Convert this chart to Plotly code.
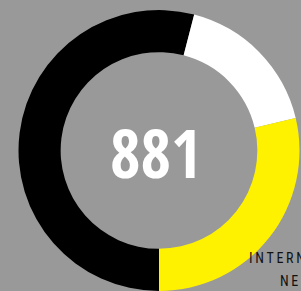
import plotly.graph_objects as go

labels = ["Black", "White", "Yellow"]
values = [476, 152, 253]
colors = ["#000000", "#FFFFFF", "#FFF200"]
center_label = "881"
caption_lines = ["INTERNATIONAL", "NEWS"]

sp = "\u2009"
def spaced(s):
    return sp.join(list(s))

fig = go.Figure(go.Pie(
    labels=labels, values=values, hole=0.70, sort=False,
    direction="clockwise", rotation=180,
    marker=dict(colors=colors, line=dict(width=0)),
    textinfo="none", hoverinfo="label+value", showlegend=False,
    domain=dict(x=[0.0598, 0.9967], y=[0.0, 0.9656]),
))

fig.add_annotation(text=center_label, x=0.518, y=0.478, xref="paper", yref="paper",
                   showarrow=False, xanchor="center", yanchor="middle",
                   font=dict(family="Open Sans Condensed, Roboto Condensed", size=66, color="#FFFFFF", weight="bold"))
fig.add_annotation(text=spaced(caption_lines[0]), x=0.822, y=0.113, xref="paper", yref="paper",
                   showarrow=False, xanchor="left", yanchor="middle",
                   font=dict(family="Roboto Condensed", size=14, color="#111111"))
fig.add_annotation(text=spaced(caption_lines[1]), x=0.922, y=0.036, xref="paper", yref="paper",
                   showarrow=False, xanchor="left", yanchor="middle",
                   font=dict(family="Roboto Condensed", size=14, color="#111111"))

fig.update_layout(width=301, height=291, margin=dict(l=0, r=0, t=0, b=0),
                  paper_bgcolor="#999999", plot_bgcolor="#999999")
fig.write_html("out.html", config={"displayModeBar": False},
               post_script="document.body.style.margin='0px';document.body.style.overflow='hidden';")
